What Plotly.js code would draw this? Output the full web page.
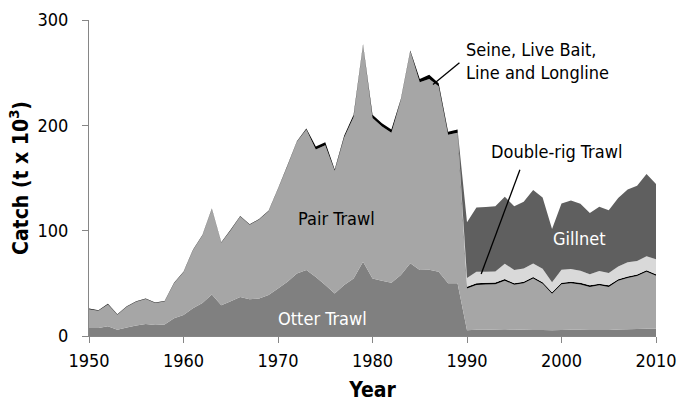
<!DOCTYPE html>
<html>
<head>
<meta charset="utf-8">
<script src="https://cdn.plot.ly/plotly-3.0.1.min.js"></script>
<style>html,body{margin:0;padding:0;background:#fff;}#chart{width:681px;height:402px;}</style>
</head>
<body>
<div id="chart"></div>
<script>
// Years 1950-2010
const years = [1950,1951,1952,1953,1954,1955,1956,1957,1958,1959,
  1960,1961,1962,1963,1964,1965,1966,1967,1968,1969,
  1970,1971,1972,1973,1974,1975,1976,1977,1978,1979,
  1980,1981,1982,1983,1984,1985,1986,1987,1988,1989,
  1990,1991,1992,1993,1994,1995,1996,1997,1998,1999,
  2000,2001,2002,2003,2004,2005,2006,2007,2008,2009,2010];

// Catch (t x 10^3) by gear
const otterTrawl = [7.6,7.6,9.2,6,8,10,11.4,10.4,11,16.8,
  20,26.4,31.4,39.4,29.2,33,37,34.8,35.7,39,
  45,51.4,59.4,62.6,56,48.3,40.4,48.3,54.6,70.5,
  54.6,52.4,50.5,57.8,69,62.6,63,61,50,50,
  5.4,6,6,6.2,6.3,6.1,6,5.8,5.6,5.5,
  5.8,6,6,5.8,5.6,5.8,6.2,6.4,6.6,6.8,6.8];
const pairTrawl = [17.9,16.4,20.8,14.2,19.8,22.5,23.7,20.9,21.8,33.2,
  40.5,55.1,64.1,81.1,59.3,67.5,76.5,70.7,74.8,79.5,
  94.5,110.1,125.1,133.4,121,132.7,116.6,140.2,153.4,205.5,
  152.4,146.6,142.5,166.2,201,178.4,181,176,141,143,
  39.8,42.5,43,43,46.2,42.5,44,48.7,44,34.5,
  43.3,44,43,40.8,42.5,40.8,46.2,48.7,50.3,54.1,50.3];
const seineLine = [0.5,0.5,0.5,0.5,0.5,0.5,0.5,0.5,0.5,0.5,
  0.5,0.5,0.5,0.5,0.5,0.5,0.5,0.5,0.5,0.5,
  0.5,0.5,0.5,1,3,3,1,1.5,2,1,
  3,3,3,1,1,3,4,3,3,3,
  1.5,1.5,1.5,1.5,1.5,1.5,1.5,1.5,1.5,1.5,
  1.5,1.5,1.5,1.5,1.5,1.5,1.5,1.5,1.5,1.5,1.5];
const doubleRig = [0,0,0,0,0,0,0,0,0,0,
  0,0,0,0,0,0,0,0,0,0,
  0,0,0,0,0,0,0,0,0,0,
  0,0,0,0,0,0,0,0,0,0,
  8.3,11,10.5,10.5,14.6,12.6,12.7,12.8,12.7,9.5,
  12.4,12,11.5,10.5,12,11.7,12,13.3,12.7,13.4,14.2];
const gillnet = [0,0,0,0,0,0,0,0,0,0,
  0,0,0,0,0,0,0,0,0,0,
  0,0,0,0,0,0,0,0,0,0,
  0,0,0,0,0,0,0,0,0,0,
  53,61,61.5,62,63.7,60.4,63.3,69.8,67.8,50.5,
  62.8,65.1,63.5,58.2,61,59.7,65.1,69.3,71.5,78,71.5];

const seriesNames = ["Otter Trawl","Pair Trawl","Seine, Live Bait, Line and Longline","Double-rig Trawl","Gillnet"];
const xTicks = [1950,1960,1970,1980,1990,2000,2010];
const yTicks = [0,100,200,300];

const colors = ["#808080","#A6A6A6","#000000","#D9D9D9","#5F5F5F"];
const data = [otterTrawl,pairTrawl,seineLine,doubleRig,gillnet].map((v,i)=>({
  x: years, y: v, name: seriesNames[i], type: "scatter", mode: "none",
  stackgroup: "one", fillcolor: colors[i], hoverinfo: "skip"
}));

const F = "'DejaVu Sans Condensed', 'DejaVu Sans', sans-serif";
const layout = {
  width: 681, height: 402,
  margin: {l: 89, r: 25, t: 20, b: 66},
  paper_bgcolor: "#fff", plot_bgcolor: "#fff",
  showlegend: false,
  font: {family: F, size: 18, color: "#000"},
  xaxis: {
    range: [1950, 2010], tickvals: xTicks, ticktext: xTicks.map(String),
    showline: true, linecolor: "#868686", linewidth: 1,
    ticks: "outside", ticklen: 6, tickcolor: "#868686",
    showgrid: false, zeroline: false, ticklabelstandoff: 2,
    tickfont: {family: F, size: 18, color: "#000"},
    title: {text: "<b>Year</b>", font: {family: F, size: 21, color: "#000"}, standoff: 12}
  },
  yaxis: {
    range: [0, 300], tickvals: yTicks, ticktext: yTicks.map(String),
    showline: true, linecolor: "#868686", linewidth: 1,
    ticks: "outside", ticklen: 6, tickcolor: "#868686",
    showgrid: false, zeroline: false, ticklabelstandoff: 10,
    tickfont: {family: F, size: 18, color: "#000"},
    title: {text: "<b>Catch (t x 10<sup>3</sup>)</b>", font: {family: F, size: 21, color: "#000"}, standoff: 3}
  },
  annotations: [
    {x: 1989.7, y: 260.7, xref: "x", yref: "y", text: "Seine, Live Bait,<br>Line and Longline", showarrow: false,
     xanchor: "left", yanchor: "middle", align: "left", font: {family: F, size: 18, color: "#000"}},
    {x: 1992.3, y: 175.2, xref: "x", yref: "y", text: "Double-rig Trawl", showarrow: false,
     xanchor: "left", yanchor: "middle", font: {family: F, size: 18, color: "#000"}},
    {x: 2001.9, y: 92.1, xref: "x", yref: "y", text: "Gillnet", showarrow: false,
     xanchor: "center", yanchor: "middle", font: {family: F, size: 18, color: "#fff"}},
    {x: 1976.2, y: 111.8, xref: "x", yref: "y", text: "Pair Trawl", showarrow: false,
     xanchor: "center", yanchor: "middle", font: {family: F, size: 18, color: "#000"}},
    {x: 1974.7, y: 16.6, xref: "x", yref: "y", text: "Otter Trawl", showarrow: false,
     xanchor: "center", yanchor: "middle", font: {family: F, size: 18, color: "#fff"}}
  ],
  shapes: [
    {type: "line", xref: "x", yref: "y", x0: 1986.4, y0: 238.8, x1: 1989.2, y1: 259.4, line: {color: "#000", width: 1.3}},
    {type: "line", xref: "x", yref: "y", x0: 1995.6, y0: 157.8, x1: 1991.5, y1: 58.8, line: {color: "#000", width: 1.3}}
  ]
};

Plotly.newPlot("chart", data, layout, {staticPlot: true, displayModeBar: false});
</script>
</body>
</html>
